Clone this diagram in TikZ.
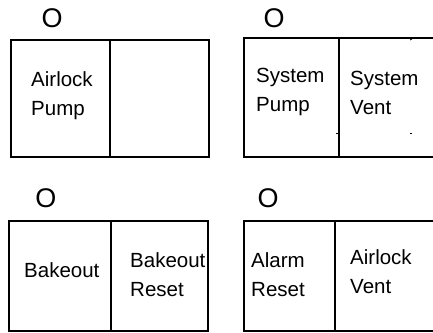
\documentclass[tikz,border=0pt]{standalone}
\usepackage{fontspec}
\setmainfont{Liberation Sans}
\usetikzlibrary{positioning}

\begin{document}
\begin{tikzpicture}[x=1pt, y=-1pt,
    cell/.style={rectangle, draw, line width=2pt, inner sep=0pt, outer sep=0pt},
    lbl/.style={anchor=base west, align=left, inner sep=0pt,
                font=\fontsize{20.5}{29.5}\selectfont},
    lamp/.style={inner sep=0pt, font=\fontsize{27}{27}\selectfont},
    tick/.style={line width=0.8pt},
  ]
    \useasboundingbox (0,0) rectangle (433,332);
    \clip (0,0) rectangle (433,332);

    % airlock pump panel
    \node[cell, minimum width=99pt, minimum height=117pt] (a1) at (60.5,98.5) {};
    \node[cell, minimum width=99pt, minimum height=117pt, right=0pt of a1] (a2) {};
    \node[lamp] (a0) at (52,18) {O};
    \node[lbl] (a1t) at (31,115.5) {Airlock\\Pump};

    % system pump / vent panel
    \node[cell, minimum width=95pt, minimum height=119pt] (b1) at (291.5,97.5) {};
    \node[cell, minimum width=106pt, minimum height=119pt, right=0pt of b1] (b2) {};
    \node[lamp] (b0) at (274,18) {O};
    \node[lbl] (b1t) at (256,111.5) {System\\Pump};
    \node[lbl] (b2t) at (350,114.5) {System\\Vent};
    \coordinate (k1) at (410,40);
    \coordinate (k2) at (336,133);
    \coordinate (k3) at (410,133);
    \draw[tick] (k1) -- ++(2,-1);
    \draw[tick] (k2) -- ++(2,0);
    \draw[tick] (k3) -- ++(2,0);

    % bakeout panel
    \node[cell, minimum width=102pt, minimum height=110pt] (c1) at (60,276) {};
    \node[cell, minimum width=97pt, minimum height=110pt, right=0pt of c1] (c2) {};
    \node[lamp] (c0) at (46,198) {O};
    \node[lbl] (c1t) at (24,277) {Bakeout};
    \node[lbl] (c2t) at (130,296.5) {Bakeout\\Reset};

    % alarm / airlock vent panel
    \node[cell, minimum width=91pt, minimum height=110pt] (d1) at (289.5,276) {};
    \node[cell, minimum width=110pt, minimum height=110pt, right=0pt of d1] (d2) {};
    \node[lamp] (d0) at (268,198) {O};
    \node[lbl] (d1t) at (251,296.5) {Alarm\\Reset};
    \node[lbl] (d2t) at (350,293.5) {Airlock\\Vent};
  \end{tikzpicture}
\end{document}
